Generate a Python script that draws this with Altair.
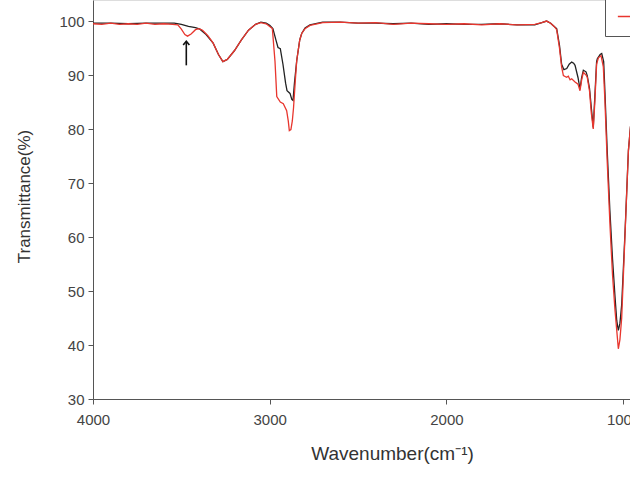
import altair as alt
import pandas as pd

# Wavenumber (cm-1) and transmittance (%) for the black trace
black_wn = [4000, 3900, 3800, 3700, 3600, 3540, 3500, 3460, 3420, 3395, 3360, 3320, 3290,
            3265, 3240, 3200, 3160, 3120, 3080, 3050, 3020, 3000, 2982, 2965, 2953, 2940,
            2925, 2910, 2902, 2885, 2875, 2868, 2860, 2847, 2830, 2819, 2800, 2772, 2700,
            2600, 2500, 2400, 2300, 2200, 2100, 2000, 1900, 1800, 1700, 1600, 1500, 1460,
            1433, 1410, 1390, 1376, 1360, 1348, 1335, 1319, 1305, 1291, 1280, 1272, 1255,
            1244, 1235, 1225, 1210, 1203, 1190, 1180, 1169, 1160, 1150, 1146, 1130, 1121,
            1110, 1103, 1090, 1075, 1060, 1046, 1036, 1027, 1018, 1008, 989, 970, 958]
black_t = [99.6, 99.6, 99.5, 99.6, 99.6, 99.6, 99.4, 99.0, 98.8, 98.5, 97.5, 95.9, 93.8,
           92.5, 92.9, 94.5, 96.5, 98.3, 99.4, 99.8, 99.6, 99.2, 98.6, 96.5, 95.1, 94.9,
           92.0, 88.5, 87.1, 86.6, 85.5, 85.3, 88.5, 92.7, 96.5, 97.7, 98.7, 99.3, 99.8,
           99.8, 99.6, 99.6, 99.5, 99.6, 99.4, 99.5, 99.4, 99.4, 99.5, 99.3, 99.3, 99.7,
           100.0, 99.6, 99.0, 98.6, 95.5, 92.0, 91.0, 91.2, 92.0, 92.4, 92.2, 91.8, 89.5,
           87.4, 89.5, 90.9, 90.6, 89.9, 87.5, 84.0, 80.3, 86.0, 92.5, 93.0, 93.8, 94.0,
           92.5, 87.0, 76.0, 65.0, 56.0, 49.0, 44.5, 42.7, 44.0, 47.5, 61.0, 76.0, 80.5]

# Wavenumber (cm-1) and transmittance (%) for the red trace
red_wn = [4000, 3950, 3900, 3850, 3800, 3750, 3700, 3650, 3600, 3550, 3520, 3500, 3480,
          3465, 3445, 3420, 3400, 3380, 3350, 3320, 3290, 3265, 3240, 3200, 3160, 3120,
          3080, 3050, 3020, 3000, 2985, 2970, 2960, 2940, 2923, 2904, 2895, 2889, 2880,
          2872, 2865, 2855, 2847, 2830, 2819, 2800, 2772, 2700, 2600, 2500, 2400, 2300,
          2200, 2100, 2000, 1900, 1800, 1700, 1600, 1500, 1460, 1433, 1410, 1390, 1376,
          1360, 1348, 1338, 1320, 1310, 1300, 1291, 1272, 1255, 1244, 1235, 1225, 1210,
          1203, 1190, 1180, 1169, 1160, 1150, 1140, 1125, 1112, 1103, 1090, 1074, 1060,
          1046, 1036, 1027, 1018, 1008, 989, 970, 958]
red_t = [99.5, 99.4, 99.6, 99.4, 99.5, 99.4, 99.6, 99.4, 99.5, 99.4, 99.3, 98.5, 97.5,
         97.2, 97.6, 98.4, 98.6, 98.3, 97.3, 95.9, 93.8, 92.5, 92.9, 94.5, 96.5, 98.3,
         99.4, 99.7, 99.5, 99.0, 98.6, 92.5, 86.0, 85.0, 84.7, 83.4, 81.5, 79.7, 79.9,
         81.5, 84.0, 89.0, 92.7, 96.5, 97.7, 98.6, 99.2, 99.7, 99.8, 99.6, 99.7, 99.4,
         99.6, 99.5, 99.4, 99.5, 99.3, 99.5, 99.3, 99.4, 99.7, 100.0, 99.6, 99.0, 98.4,
         95.0, 91.5, 89.9, 89.6, 89.8, 89.1, 89.3, 88.7, 88.3, 87.1, 89.0, 90.5, 90.0,
         89.6, 87.0, 83.0, 80.0, 85.0, 92.0, 93.2, 93.6, 91.5, 85.3, 74.0, 62.0, 53.0,
         46.5, 42.7, 39.3, 41.0, 45.0, 60.6, 76.0, 80.5]

series_names = ["Sample A", "Sample B"]
series_colors = ["#222222", "#e8362e"]

# Arrow annotation (wavenumber, tail and head transmittance)
arrow_wn = [3472]
arrow_tail = [91.8]
arrow_head = [96.2]

x_ticks = [4000, 3000, 2000, 1000]
y_ticks = [30, 40, 50, 60, 70, 80, 90, 100]

df_black = pd.DataFrame({"wn": black_wn, "t": black_t, "s": series_names[0],
                         "o": range(len(black_wn))})
df_red = pd.DataFrame({"wn": red_wn, "t": red_t, "s": series_names[1],
                       "o": range(len(red_wn))})
df_arrow = pd.DataFrame({"wn": arrow_wn, "t1": arrow_tail, "t2": arrow_head})

FONT = "Liberation Sans"

x_scale = alt.Scale(domain=[961, 4000], reverse=True, nice=False, zero=False)
y_scale = alt.Scale(domain=[30, 103.9], nice=False, zero=False)

x_axis = alt.Axis(values=x_ticks, format="d", title="Wavenumber(cm\u207b\u00b9)", grid=False,
                  labelFlush=False, labelFontSize=15, labelFont=FONT, labelColor="#444",
                  titleFont=FONT, titleFontSize=19, titleFontWeight="normal",
                  titleColor="#333", titlePadding=17, titleX=299,
                  domainColor="#555", tickColor="#555", tickSize=5, labelPadding=8)
y_axis = alt.Axis(values=y_ticks, format="d", title="Transmittance(%)", grid=False,
                  labelFontSize=15, labelFont=FONT, labelColor="#444",
                  titleFont=FONT, titleFontSize=17, titleFontWeight="normal",
                  titleColor="#333", titlePadding=25, titleY=196,
                  domainColor="#555", tickColor="#555", tickSize=5, labelPadding=4)

color = alt.Color("s:N", scale=alt.Scale(domain=series_names, range=series_colors),
                  legend=alt.Legend(orient="none", legendX=512, legendY=-28, title=None,
                                    strokeColor="#555", fillColor="white", padding=12,
                                    symbolType="stroke", symbolStrokeWidth=1.5,
                                    symbolSize=300, labelFontSize=13, labelFont=FONT,
                                    rowPadding=6))

black_line = alt.Chart(df_black).mark_line(strokeWidth=1.3, clip=True).encode(
    x=alt.X("wn:Q", scale=x_scale, axis=x_axis),
    y=alt.Y("t:Q", scale=y_scale, axis=y_axis),
    color=color,
    order="o:Q",
)
red_line = alt.Chart(df_red).mark_line(strokeWidth=1.3, clip=True).encode(
    x=alt.X("wn:Q", scale=x_scale),
    y=alt.Y("t:Q", scale=y_scale),
    color=color,
    order="o:Q",
)
arrow_shaft = alt.Chart(df_arrow).mark_rule(color="#111", strokeWidth=1.6).encode(
    x="wn:Q", y="t1:Q", y2="t2:Q")
arrow_head_mark = alt.Chart(df_arrow).mark_point(
    shape="M -0.8 0.9 L 0 -0.1 L 0.8 0.9", filled=False, color="#111",
    strokeWidth=1.6, size=60, opacity=1).encode(x="wn:Q", y="t2:Q")

chart = alt.layer(black_line, red_line, arrow_shaft, arrow_head_mark).properties(
    width=537, height=399,
    autosize=alt.AutoSizeParams(type="none"),
    padding={"left": 93, "top": 0, "right": 0, "bottom": 84},
).configure_view(stroke=None).configure(background="white")

chart.save("out.html", embed_options={"renderer": "svg", "actions": False})
